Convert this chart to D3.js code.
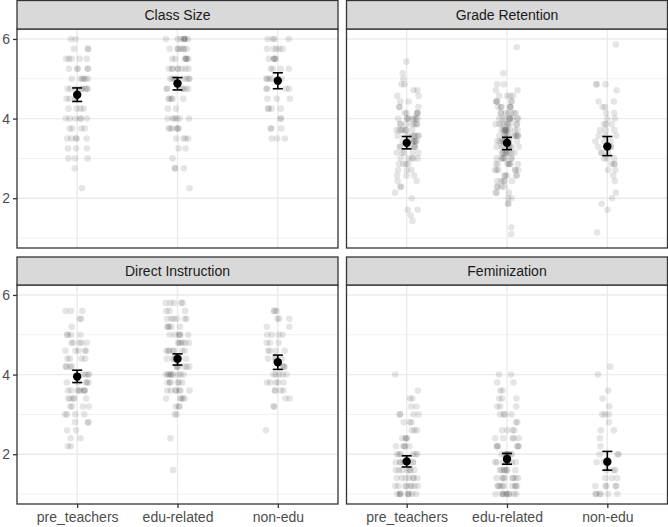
<!DOCTYPE html>
<html>
<head>
<meta charset="utf-8">
<script src="https://cdn.jsdelivr.net/npm/d3@7/dist/d3.min.js"></script>
<style>
  html, body { margin: 0; padding: 0; background: #fff; }
  svg { display: block; }
  text { font-family: "Liberation Sans", Arial, sans-serif; }
</style>
</head>
<body>
<svg id="chart" width="668" height="527"></svg>
<script>
// ---------------- DATA ----------------
const groups = ["pre_teachers", "edu-related", "non-edu"];
const facets = ["Class Size", "Grade Retention", "Direct Instruction", "Feminization"];
const yTicks = [2, 4, 6];
const yMinorTicks = [1, 3, 5];

// points as [value, count] per group
const classSizePre = [[6,2],[5.75,3],[5.5,5],[5.25,5],[5,6],[4.75,8],[4.5,4],[4.25,4],[4,6],[3.75,4],[3.5,5],[3.25,3],[3,3],[2.75,1],[2.25,1]];
const classSizeEdu = [[6,8],[5.75,7],[5.5,7],[5.25,8],[5,8],[4.75,6],[4.5,5],[4.25,2],[4,6],[3.75,6],[3.5,4],[3.25,2],[3,1],[2.75,3],[2.25,1]];
const classSizeNon = [[6,4],[5.75,5],[5.5,5],[5.25,4],[5,5],[4.75,4],[4.5,3],[4.25,4],[4,2],[3.75,3],[3.5,3]];

const retentionPre = [[5.43,1],[5.14,1],[5.0,1],[4.86,2],[4.71,2],[4.57,2],[4.43,2],[4.29,3],[4.14,5],[4.0,8],[3.86,7],[3.71,7],[3.57,7],[3.43,7],[3.29,6],[3.14,5],[3.0,5],[2.86,4],[2.71,3],[2.57,3],[2.43,2],[2.29,2],[2.14,1],[2.0,1],[1.71,2],[1.57,1],[1.43,1]];
const retentionEdu = [[5.79,1],[5.14,1],[4.86,2],[4.71,2],[4.57,4],[4.43,5],[4.29,6],[4.14,7],[4.0,9],[3.86,9],[3.71,10],[3.57,10],[3.43,9],[3.29,8],[3.14,8],[3.0,7],[2.86,7],[2.71,6],[2.57,5],[2.43,5],[2.29,4],[2.14,3],[2.0,2],[1.86,2],[1.27,1],[1.1,1]];
const retentionNon = [[5.86,1],[4.86,3],[4.71,1],[4.43,2],[4.29,2],[4.14,2],[4.0,2],[3.86,3],[3.71,3],[3.57,3],[3.43,3],[3.29,3],[3.14,3],[3.0,3],[2.86,3],[2.71,2],[2.57,1],[2.43,1],[2.14,1],[2.0,1],[1.86,1],[1.71,1],[1.14,1]];

const directPre = [[5.6,3],[5.4,2],[5.2,1],[5.0,4],[4.8,5],[4.6,5],[4.4,4],[4.2,4],[4.0,4],[3.8,5],[3.6,8],[3.4,5],[3.2,4],[3.0,4],[2.8,3],[2.6,2],[2.4,2],[2.2,2]];
const directEdu = [[5.8,5],[5.6,3],[5.4,6],[5.2,5],[5.0,6],[4.8,6],[4.6,7],[4.4,7],[4.2,6],[4.0,9],[3.8,6],[3.6,7],[3.4,5],[3.2,3],[3.0,2],[2.4,1],[1.6,1]];
const directNon = [[5.6,3],[5.4,3],[5.2,2],[5.0,4],[4.8,3],[4.6,4],[4.4,4],[4.2,3],[4.0,5],[3.8,5],[3.6,4],[3.4,2],[3.2,2],[2.6,1]];

const feminPre = [[4.0,1],[3.6,1],[3.4,2],[3.2,2],[3.0,4],[2.8,3],[2.6,3],[2.4,4],[2.2,5],[2.0,6],[1.8,7],[1.6,7],[1.4,7],[1.2,8],[1.0,9]];
const feminEdu = [[4.0,2],[3.8,2],[3.6,2],[3.4,3],[3.2,3],[3.0,4],[2.8,2],[2.6,4],[2.4,5],[2.2,6],[2.0,8],[1.8,7],[1.6,7],[1.4,8],[1.2,9],[1.0,10]];
const feminNon = [[4.2,1],[4.0,1],[3.6,1],[3.4,1],[3.2,1],[3.0,3],[2.8,1],[2.6,2],[2.4,1],[2.2,1],[2.0,3],[1.8,3],[1.6,3],[1.4,3],[1.2,5],[1.0,6]];

// means and error-bar limits per group
const classSizeMean = [4.60, 4.88, 4.95];
const classSizeLow  = [4.43, 4.72, 4.75];
const classSizeHigh = [4.77, 5.03, 5.15];
const retentionMean = [3.39, 3.39, 3.30];
const retentionLow  = [3.24, 3.22, 3.07];
const retentionHigh = [3.55, 3.53, 3.55];
const directMean = [3.95, 4.40, 4.31];
const directLow  = [3.80, 4.24, 4.13];
const directHigh = [4.11, 4.52, 4.49];
const feminMean = [1.82, 1.88, 1.81];
const feminLow  = [1.68, 1.75, 1.60];
const feminHigh = [1.96, 2.02, 2.07];

// ---------------- BUILD ----------------
const facetData = [
  {name: facets[0], pts: [classSizePre, classSizeEdu, classSizeNon], mean: classSizeMean, lo: classSizeLow, hi: classSizeHigh},
  {name: facets[1], pts: [retentionPre, retentionEdu, retentionNon], mean: retentionMean, lo: retentionLow, hi: retentionHigh},
  {name: facets[2], pts: [directPre, directEdu, directNon], mean: directMean, lo: directLow, hi: directHigh},
  {name: facets[3], pts: [feminPre, feminEdu, feminNon], mean: feminMean, lo: feminLow, hi: feminHigh}
];

const svg = d3.select("#chart");
const colX = [[17, 338], [346.5, 667.5]];
const rowY = [{strip: 0.5, top: 29, bottom: 248}, {strip: 257, top: 285, bottom: 504}];

const FONT = 14;
// deterministic hash used for horizontal jitter placement
const hash = (a, b, c) => { const s = Math.sin(a * 78.233 + b * 12.9898 + c * 37.719) * 43758.5453; return s - Math.floor(s); };

facetData.forEach((f, fi) => {
  const col = fi % 2, row = Math.floor(fi / 2);
  const [x0, x1] = colX[col];
  const R = rowY[row];
  const x = d3.scalePoint().domain(groups).range([x0, x1]).padding(0.6);
  const step = x.step();
  const y = d3.scaleLinear().domain([0.75, 6.25]).range([R.bottom, R.top]);
  const g = svg.append("g");

  g.append("rect").attr("x", x0).attr("y", R.top).attr("width", x1 - x0).attr("height", R.bottom - R.top).attr("fill", "#fff");

  g.selectAll(".ymin").data(yMinorTicks).join("line")
    .attr("x1", x0).attr("x2", x1).attr("y1", d => y(d)).attr("y2", d => y(d))
    .attr("stroke", "#EBEBEB").attr("stroke-width", 0.7);
  g.selectAll(".ymaj").data(yTicks).join("line")
    .attr("x1", x0).attr("x2", x1).attr("y1", d => y(d)).attr("y2", d => y(d))
    .attr("stroke", "#EBEBEB").attr("stroke-width", 1.4);
  g.selectAll(".xmaj").data(groups).join("line")
    .attr("x1", d => x(d)).attr("x2", d => x(d)).attr("y1", R.top).attr("y2", R.bottom)
    .attr("stroke", "#EBEBEB").attr("stroke-width", 1.4);

  const pts = [];
  f.pts.forEach((arr, gi) => {
    let k = 0;
    arr.forEach(([v, c]) => {
      for (let j = 0; j < c; j++) {
        const u = hash(k + 1, gi + 1, fi + 1) - 0.5;
        pts.push({g: groups[gi], v: v, off: u * 2 * 0.12});
        k++;
      }
    });
  });
  g.selectAll(".pt").data(pts).join("circle")
    .attr("cx", d => x(d.g) + d.off * step)
    .attr("cy", d => y(d.v))
    .attr("r", 3.3)
    .attr("fill", "#000").attr("fill-opacity", 0.1);

  const eb = groups.map((gName, i) => ({g: gName, m: f.mean[i], lo: f.lo[i], hi: f.hi[i]}));
  const hw = 0.05 * step;
  const ebG = g.selectAll(".eb").data(eb).join("g");
  ebG.append("line").attr("x1", d => x(d.g)).attr("x2", d => x(d.g))
    .attr("y1", d => y(d.lo)).attr("y2", d => y(d.hi))
    .attr("stroke", "#000").attr("stroke-width", 1.6);
  ebG.append("line").attr("x1", d => x(d.g) - hw).attr("x2", d => x(d.g) + hw)
    .attr("y1", d => y(d.lo)).attr("y2", d => y(d.lo))
    .attr("stroke", "#000").attr("stroke-width", 1.6);
  ebG.append("line").attr("x1", d => x(d.g) - hw).attr("x2", d => x(d.g) + hw)
    .attr("y1", d => y(d.hi)).attr("y2", d => y(d.hi))
    .attr("stroke", "#000").attr("stroke-width", 1.6);
  ebG.append("circle").attr("cx", d => x(d.g)).attr("cy", d => y(d.m)).attr("r", 4.2).attr("fill", "#000");

  g.append("rect").attr("x", x0).attr("y", R.top).attr("width", x1 - x0).attr("height", R.bottom - R.top)
    .attr("fill", "none").attr("stroke", "#333333").attr("stroke-width", 1.3);

  g.append("rect").attr("x", x0).attr("y", R.strip).attr("width", x1 - x0).attr("height", R.top - R.strip)
    .attr("fill", "#D9D9D9").attr("stroke", "#333333").attr("stroke-width", 1.3);
  g.append("text").attr("x", (x0 + x1) / 2).attr("y", (R.strip + R.top) / 2).attr("dy", "0.36em")
    .attr("text-anchor", "middle").attr("font-size", FONT).attr("fill", "#1A1A1A").text(f.name);

  if (col === 0) {
    const ya = d3.axisLeft(y).tickValues(yTicks).tickSize(4).tickPadding(3).tickFormat(d3.format("d"));
    const ag = g.append("g").attr("transform", `translate(${x0},0)`).call(ya);
    ag.select(".domain").remove();
    ag.selectAll(".tick line").attr("stroke", "#333333").attr("stroke-width", 1.3);
    ag.selectAll(".tick text").attr("font-size", FONT).attr("fill", "#4D4D4D")
      .attr("font-family", "Liberation Sans, Arial, sans-serif");
  }
  if (row === 1) {
    const xa = d3.axisBottom(x).tickSize(4).tickPadding(4);
    const ag = g.append("g").attr("transform", `translate(0,${R.bottom})`).call(xa);
    ag.select(".domain").remove();
    ag.selectAll(".tick line").attr("stroke", "#333333").attr("stroke-width", 1.3);
    ag.selectAll(".tick text").attr("font-size", FONT).attr("fill", "#4D4D4D")
      .attr("font-family", "Liberation Sans, Arial, sans-serif");
  }
});
</script>
</body>
</html>
